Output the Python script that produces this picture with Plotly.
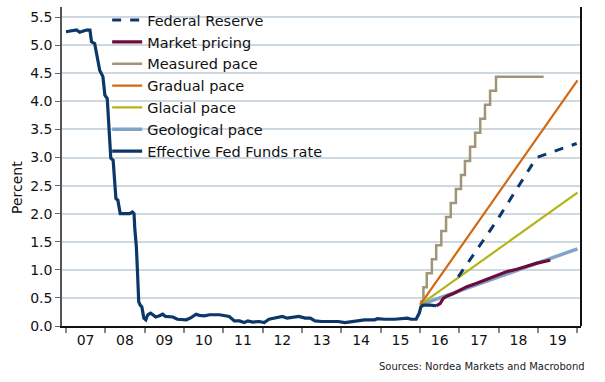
import plotly.graph_objects as go

# ---- data ----
eff_t = [2007.00, 2007.15, 2007.27, 2007.35, 2007.45, 2007.52, 2007.61, 2007.65, 2007.73, 2007.78,
         2007.82, 2007.86, 2007.94, 2007.99, 2008.05, 2008.11, 2008.14, 2008.20, 2008.24, 2008.27,
         2008.32, 2008.38, 2008.49, 2008.62, 2008.69, 2008.73, 2008.75, 2008.79, 2008.82, 2008.85,
         2008.89, 2008.93, 2008.98, 2009.03, 2009.08, 2009.15, 2009.21, 2009.28, 2009.36, 2009.46,
         2009.53, 2009.63, 2009.72, 2009.83, 2009.97, 2010.06, 2010.18, 2010.31, 2010.39, 2010.52,
         2010.65, 2010.90, 2011.15, 2011.28, 2011.41, 2011.53, 2011.62, 2011.75, 2011.91, 2012.04,
         2012.16, 2012.33, 2012.50, 2012.62, 2012.75, 2012.92, 2013.08, 2013.21, 2013.33, 2013.50,
         2013.75, 2013.92, 2014.09, 2014.25, 2014.59, 2014.84, 2014.92, 2015.09, 2015.35, 2015.68,
         2015.77, 2015.90, 2015.98, 2016.02, 2016.08, 2016.25, 2016.41]
eff_v = [5.24, 5.26, 5.27, 5.23, 5.26, 5.27, 5.27, 5.06, 5.03, 4.85,
         4.76, 4.55, 4.44, 4.11, 4.05, 3.43, 2.99, 2.95, 2.60, 2.27,
         2.24, 2.00, 2.00, 2.00, 2.03, 2.00, 1.74, 1.41, 0.94, 0.43,
         0.37, 0.34, 0.14, 0.11, 0.20, 0.23, 0.20, 0.16, 0.18, 0.21,
         0.17, 0.17, 0.16, 0.12, 0.12, 0.11, 0.15, 0.21, 0.19, 0.18,
         0.20, 0.20, 0.17, 0.09, 0.09, 0.06, 0.09, 0.07, 0.08, 0.06,
         0.12, 0.15, 0.17, 0.14, 0.15, 0.17, 0.14, 0.14, 0.09, 0.08,
         0.08, 0.08, 0.06, 0.08, 0.11, 0.11, 0.13, 0.12, 0.12, 0.14,
         0.12, 0.12, 0.23, 0.34, 0.37, 0.37, 0.36]

mkt_t = [2016.41, 2016.51, 2016.59, 2016.68, 2016.85, 2017.02, 2017.19, 2017.44, 2017.70, 2017.95,
         2018.21, 2018.46, 2018.72, 2018.97, 2019.31]
mkt_v = [0.36, 0.40, 0.49, 0.53, 0.58, 0.64, 0.70, 0.76, 0.83, 0.89,
         0.97, 1.01, 1.07, 1.12, 1.17]

meas_t = [2016.00, 2016.085, 2016.17, 2016.30, 2016.41, 2016.54, 2016.66, 2016.78, 2016.91, 2017.04,
          2017.14, 2017.27, 2017.40, 2017.53, 2017.65, 2017.78, 2017.93, 2019.14]
meas_v = [0.44, 0.69, 0.94, 1.19, 1.44, 1.69, 1.94, 2.19, 2.44, 2.69,
          2.94, 3.19, 3.44, 3.69, 3.94, 4.19, 4.44, 4.44]

pace_t = [2016.0, 2020.0]
gradual_v = [0.375, 4.375]
glacial_v = [0.375, 2.375]
geological_v = [0.375, 1.375]

fed_t = [2016.97, 2017.95, 2018.96, 2019.98]
fed_v = [0.875, 1.875, 3.0, 3.25]

year_labels = ["07", "08", "09", "10", "11", "12", "13", "14", "15", "16", "17", "18", "19"]
label_pos = [2007.5, 2008.5, 2009.5, 2010.5, 2011.5, 2012.5, 2013.5, 2014.5, 2015.5, 2016.5, 2017.5, 2018.5, 2019.5]
year_bounds = [2007, 2008, 2009, 2010, 2011, 2012, 2013, 2014, 2015, 2016, 2017, 2018, 2019, 2020]
y_ticks = [0.0, 0.5, 1.0, 1.5, 2.0, 2.5, 3.0, 3.5, 4.0, 4.5, 5.0, 5.5]

NAVY = "#0b3868"
fig = go.Figure()

fig.add_trace(go.Scatter(x=meas_t, y=meas_v, mode="lines", line_shape="hv", name="Measured pace",
                         line=dict(color="#a09677", width=2.5), legendrank=3))
fig.add_trace(go.Scatter(x=pace_t, y=geological_v, mode="lines", name="Geological pace",
                         line=dict(color="#7fa3c9", width=3.5), legendrank=6))
fig.add_trace(go.Scatter(x=pace_t, y=glacial_v, mode="lines", name="Glacial pace",
                         line=dict(color="#b4b414", width=2.2), legendrank=5))
fig.add_trace(go.Scatter(x=pace_t, y=gradual_v, mode="lines", name="Gradual pace",
                         line=dict(color="#d4680f", width=2.2), legendrank=4))
fig.add_trace(go.Scatter(x=mkt_t, y=mkt_v, mode="lines", name="Market pricing",
                         line=dict(color="#6e0b3d", width=3.2), legendrank=2))
fig.add_trace(go.Scatter(x=eff_t, y=eff_v, mode="lines", name="Effective Fed Funds rate",
                         line=dict(color=NAVY, width=3.2), legendrank=7))
fig.add_trace(go.Scatter(x=fed_t, y=fed_v, mode="lines", name="Federal Reserve",
                         line=dict(color=NAVY, width=3, dash="dash"), legendrank=1))

font = "DejaVu Sans, Verdana, sans-serif"
fig.update_layout(
    width=605, height=382,
    margin=dict(l=62, r=24, t=7, b=56, autoexpand=False),
    paper_bgcolor="white", plot_bgcolor="white",
    font=dict(family=font, size=14, color="#111111"),
    showlegend=True,
    legend=dict(x=0.087, y=1.009, xanchor="left", yanchor="top", bgcolor="rgba(0,0,0,0)",
                font=dict(family=font, size=14.5, color="#111111"), tracegroupgap=0),
    xaxis=dict(range=[2006.9, 2020.09], tickmode="array", tickvals=label_pos, ticktext=year_labels,
               ticks="", showgrid=False, zeroline=False, showline=True, linecolor="#111111", linewidth=2,
               tickfont=dict(size=14), automargin=False,
               minor=dict(tickmode="array", tickvals=year_bounds, ticks="outside", ticklen=5,
                          tickcolor="#888888", tickwidth=1.5, showgrid=False)),
    yaxis=dict(range=[0, 5.68], tickmode="array", tickvals=y_ticks,
               ticktext=[f"{v:.1f}" for v in y_ticks], ticks="outside", ticklen=5, tickcolor="#666666",
               showgrid=True, gridcolor="#cdd8e1", gridwidth=1.5, zeroline=False,
               showline=True, linecolor="#555555", linewidth=1.5,
               tickfont=dict(size=14), automargin=False),
)
fig.add_shape(type="line", xref="paper", yref="paper", x0=1, x1=1, y0=0, y1=1,
              line=dict(color="#111111", width=2))
fig.add_annotation(text="Percent", xref="paper", yref="paper", x=-(62 - 17) / 519, y=(326 - 188) / 319,
                   xanchor="center", yanchor="middle", textangle=-90, showarrow=False,
                   font=dict(family=font, size=14, color="#111111"))
fig.add_annotation(text="Sources: Nordea Markets and Macrobond", xref="paper", yref="paper",
                   x=(587 - 62) / 519, y=-(366 - 326) / 319, xanchor="right", yanchor="middle",
                   showarrow=False, font=dict(family=font, size=10, color="#222222"))

fig.write_html("out.html", config={"displayModeBar": False},
               post_script="document.body.style.margin='0';document.body.style.overflow='hidden';")
